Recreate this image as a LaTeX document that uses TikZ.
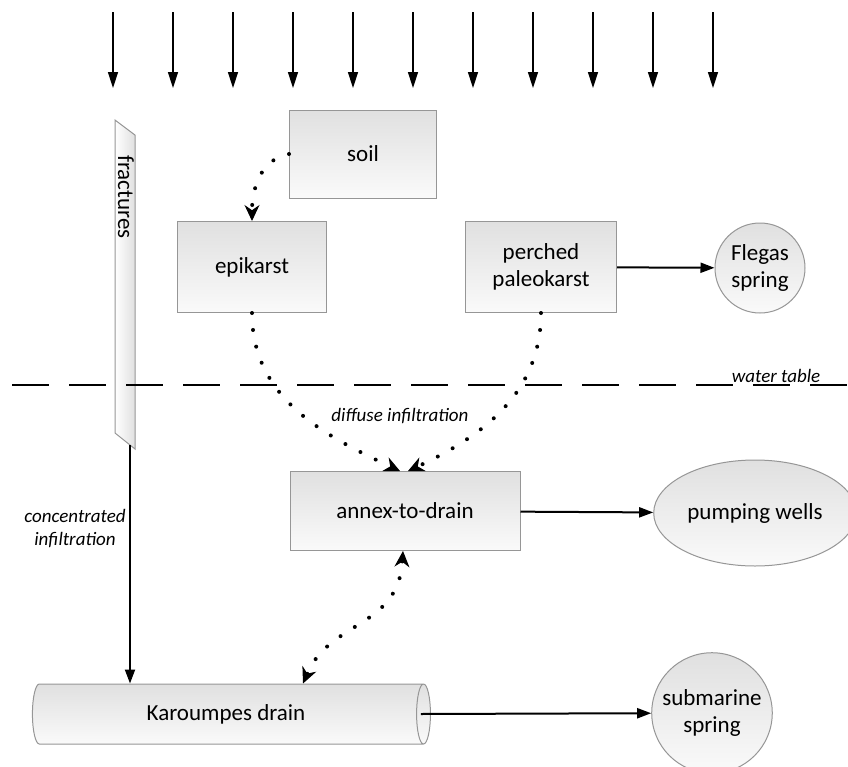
\documentclass[tikz,border=0pt]{standalone}
\usepackage{fontspec}
\setmainfont{Carlito}
\usetikzlibrary{arrows.meta,positioning,shapes.geometric,calc}
\definecolor{cBorder}{RGB}{150,150,150}
\definecolor{cTop}{RGB}{224,224,224}
\definecolor{cBot}{RGB}{250,250,250}

\begin{document}
\begin{tikzpicture}[x=0.5pt, y=-0.5pt,
  font=\fontsize{11.5}{13.5}\selectfont,
  box/.style={draw=cBorder, line width=0.5pt, top color=cTop, bottom color=cBot, align=center, inner sep=2pt},
  lbl/.style={font=\fontsize{9.5}{11.5}\selectfont\itshape, align=center},
  flow/.style={line width=1pt, -{Triangle[length=7pt,width=5pt]}},
  seep/.style={line width=2pt, line cap=round, dash pattern=on 0pt off 8.5pt,
    >={Stealth[length=8pt,width=7.5pt,line width=0.5pt]}},
  rain/.style={line width=0.75pt, -{Triangle[length=8pt,width=5pt]}}]
  \useasboundingbox (0,0) rectangle (848,767);
  % rain
  \foreach \x in {113,173,...,713}
    \draw[rain] (\x,12) -- (\x,88);
  % fractures
  \shade[draw=cBorder, line width=0.5pt, left color=white, right color=cTop]
    (115,120) -- (135,135) -- (135,449) -- (115,433) -- cycle;
  \node[rotate=-90] (fractures) at (126,197) {fractures};
  \coordinate (fracfoot) at (130,445);
  % reservoirs
  \node[box, minimum width=73.5pt, minimum height=44pt] (soil) at (363,154) {soil};
  \node[box, minimum width=74.5pt, minimum height=45.5pt] (epikarst) at (252,267) {epikarst};
  \node[box, minimum width=75.5pt, minimum height=45.5pt] (paleo) at (541,267) {perched\\paleokarst};
  \node[box, minimum width=115pt, minimum height=39.5pt] (annex) at (405,511) {annex-to-drain};
  \node[box, cylinder, shape aspect=0.5, minimum width=30pt, minimum height=199pt] (drain) at (226,714) {Karoumpes drain};
  % outlets
  \node[box, circle, minimum size=45pt] (flegas) at (760,268) {Flegas\\spring};
  \node[box, ellipse, minimum width=61pt, minimum height=53pt] (wells) at (755,513) {pumping wells};
  \node[box, circle, minimum size=52pt] (submarine) at (712,713) {submarine\\spring};
  % water table
  \draw[line width=1.25pt, dash pattern=on 18.5pt off 10pt] (12,385) -- (848,385);
  \node[lbl] (wt) at (776,376) {water table};
  % flows
  \draw[seep,->] (soil.west) to[out=190,in=90] (epikarst.north);
  \draw[seep,->] (epikarst.south) to[out=-90,in=155] ($(annex.north)+(-5,0)$);
  \draw[seep,->] (paleo.south) to[out=-90,in=25] ($(annex.north)+(3,0)$);
  \draw[seep,<->] ($(annex.south)+(-2,0)$) .. controls +(-5,77) and +(27,-63) .. ($(drain.north)+(77,0)$);
  \draw[flow] (fracfoot) -- (fracfoot |- drain.north);
  \draw[flow] (paleo) -- (flegas);
  \draw[flow] (annex) -- (wells);
  \draw[flow] ([xshift=-5pt]drain.east) -- (submarine);
  % labels
  \node[lbl] (diffuse) at (400,416) {diffuse infiltration};
  \node[lbl] (concentrated) at (75,529) {concentrated\\infiltration};
\end{tikzpicture}
\end{document}
